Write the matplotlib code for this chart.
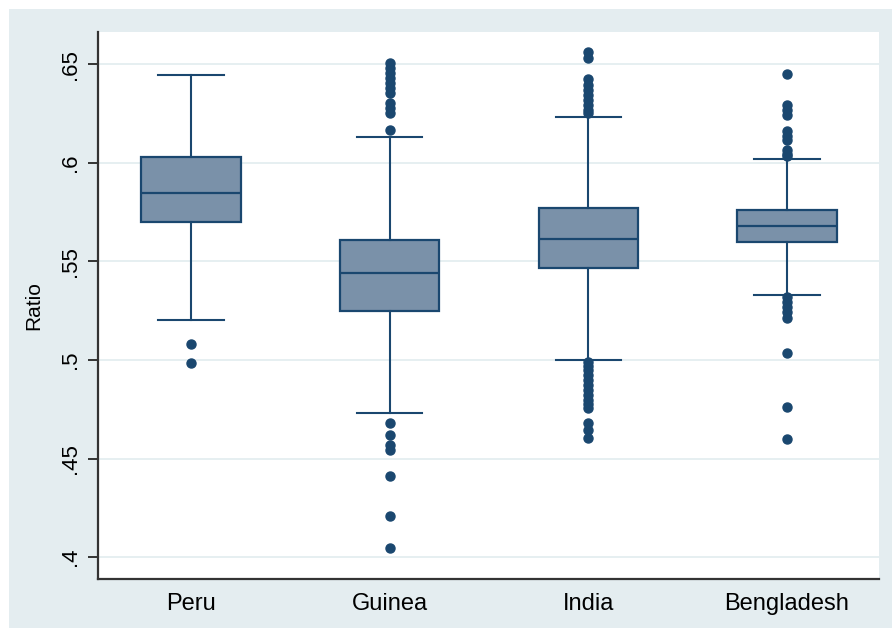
import matplotlib
matplotlib.use("Agg")
import matplotlib.pyplot as plt
from matplotlib.patches import Rectangle

# Box plot summary statistics per country
countries = ["Peru", "Guinea", "India", "Bengladesh"]
q1 = [0.5698, 0.5247, 0.5467, 0.5597]
median = [0.5846, 0.5441, 0.5615, 0.5681]
q3 = [0.6028, 0.5607, 0.5772, 0.5761]
whisker_low = [0.5203, 0.4732, 0.5000, 0.5329]
whisker_high = [0.6446, 0.6131, 0.6233, 0.6021]

# Outside values per country
outliers_peru = [0.5079, 0.4986]
outliers_guinea = [0.6168, 0.6254, 0.6277, 0.6302, 0.6353, 0.6378, 0.6404,
                   0.6429, 0.6454, 0.6480, 0.6508,
                   0.4679, 0.4619, 0.4569, 0.4543, 0.4413, 0.4210, 0.4047]
outliers_india = [0.6564, 0.6530, 0.6424, 0.6395, 0.6370, 0.6344, 0.6319,
                  0.6294, 0.6268, 0.6251,
                  0.4990, 0.4970, 0.4950, 0.4924, 0.4899, 0.4874, 0.4848,
                  0.4823, 0.4797, 0.4777, 0.4757, 0.4681, 0.4645, 0.4604]
outliers_bangladesh = [0.6449, 0.6293, 0.6268, 0.6243, 0.6162, 0.6137,
                       0.6116, 0.6065, 0.6045, 0.6035,
                       0.5321, 0.5296, 0.5270, 0.5245, 0.5214, 0.5034,
                       0.4763, 0.4599]
outliers = [outliers_peru, outliers_guinea, outliers_india, outliers_bangladesh]

yticks = [0.40, 0.45, 0.50, 0.55, 0.60, 0.65]
ytick_labels = [".4", ".45", ".5", ".55", ".6", ".65"]

navy = "#1a476f"
box_fill = "#7a91a9"
bg = "#e4edf0"
grid_col = "#e6eff1"

plt.rcParams["font.family"] = ["Liberation Sans", "DejaVu Sans"]

fig = plt.figure(figsize=(8.92, 6.28), dpi=100)
fig.patch.set_facecolor("white")
fig.add_artist(Rectangle((9 / 892, 0), 1 - 9 / 892, 1 - 9 / 628,
                         transform=fig.transFigure, facecolor=bg,
                         edgecolor="none", zorder=-10))

ax = fig.add_axes([98 / 892, 49 / 628, (879 - 98) / 892, (579 - 32) / 628])
ax.set_facecolor("white")

stats = []
for i, name in enumerate(countries):
    stats.append({
        "label": name,
        "q1": q1[i], "med": median[i], "q3": q3[i],
        "whislo": whisker_low[i], "whishi": whisker_high[i],
        "fliers": outliers[i],
    })

positions = [1, 2, 3, 4]
ax.bxp(stats, positions=positions, widths=0.5, capwidths=0.33,
       patch_artist=True, showfliers=True,
       boxprops=dict(facecolor=box_fill, edgecolor=navy, linewidth=1.6),
       medianprops=dict(color=navy, linewidth=1.6),
       whiskerprops=dict(color=navy, linewidth=1.5),
       capprops=dict(color=navy, linewidth=1.5),
       flierprops=dict(marker="o", markerfacecolor=navy, markeredgecolor=navy,
                       markersize=6.5, linestyle="none"))

ax.set_xlim(0.532, 4.463)
ax.set_ylim(0.3889, 0.6664)

ax.set_yticks(yticks)
ax.set_yticklabels(ytick_labels, rotation=90, va="center", fontsize=16)
ax.yaxis.grid(True, color=grid_col, linewidth=1.4)
ax.set_axisbelow(True)

ax.set_xticks(positions)
ax.set_xticklabels(countries, fontsize=17)
ax.tick_params(axis="x", length=0, pad=10)
ax.tick_params(axis="y", length=7, width=1.4, color="#333333", pad=5)

ax.set_ylabel("Ratio", fontsize=15)
ax.yaxis.set_label_coords(-(98 - 43) / (879 - 98), 0.5)

for side in ["top", "right"]:
    ax.spines[side].set_visible(False)
for side in ["left", "bottom"]:
    ax.spines[side].set_color("#333333")
    ax.spines[side].set_linewidth(1.6)

fig.savefig("out.png", dpi=100, facecolor=fig.get_facecolor())
